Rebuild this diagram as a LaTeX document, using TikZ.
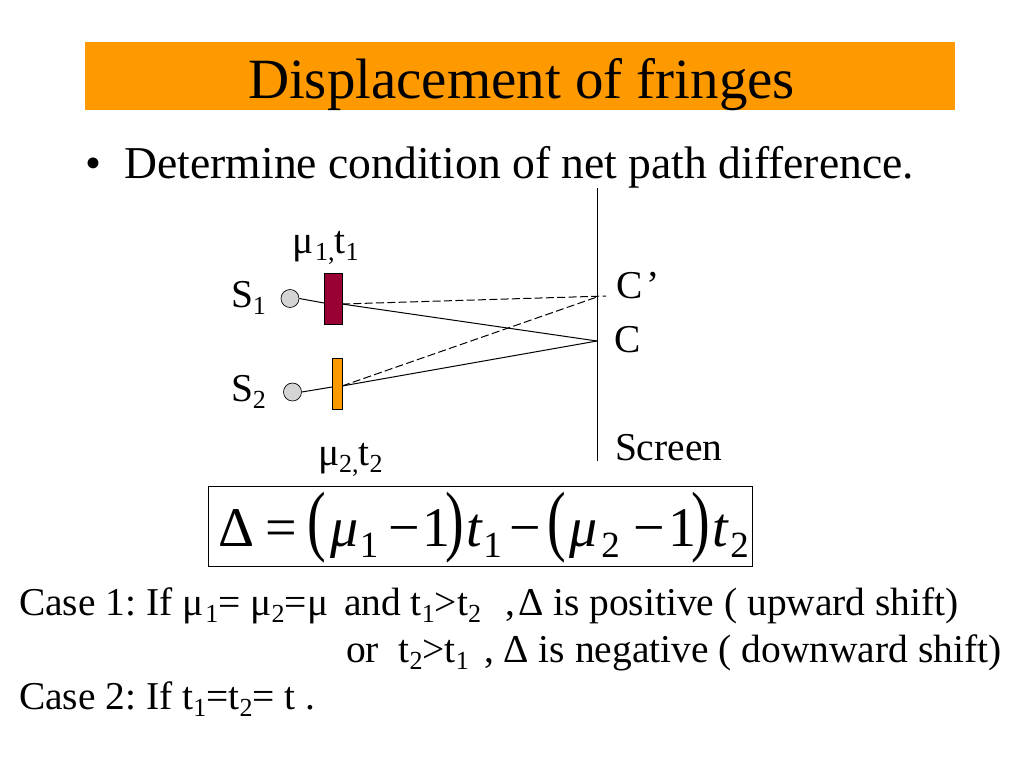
\documentclass[tikz,border=0pt]{standalone}
\usepackage{fontspec}
\setmainfont{Liberation Serif}
\usetikzlibrary{positioning}
\frenchspacing
\newcommand{\lowsub}[1]{\raisebox{-0.2em}{\scalebox{0.66}{#1}}}
\newcommand{\tallparen}[1]{\scalebox{1}[1.4]{#1}}
\newcommand{\gap}[1]{\hspace{#1em}}
\tikzset{
	txt/.style={anchor=base west, inner sep=0pt, outer sep=0pt},
	body/.style={txt, font=\fontsize{29.6}{32}\selectfont},
	diag/.style={txt, font=\fontsize{29.6}{32}\selectfont},
	source/.style={circle, draw=black, fill=black!17, minimum size=13.5pt, inner sep=0pt, line width=0.5pt},
	plate/.style={draw=black, line width=0.5pt, inner sep=0pt, anchor=north west},
	ray/.style={line width=0.75pt},
	dashray/.style={line width=0.75pt, dash pattern=on 6pt off 2.5pt}
}
\definecolor{titlebar}{RGB}{255,153,0}
\definecolor{wine}{RGB}{153,0,51}
\definecolor{amber}{RGB}{255,153,0}
\begin{document}
\begin{tikzpicture}[x=0.75pt, y=-0.75pt]
		\useasboundingbox (0,0) rectangle (1024,768);
		% Title
		\node[fill=titlebar, minimum width=652.5pt, minimum height=51pt, inner sep=0pt, anchor=north west] (bar) at (85,42) {};
		\node[txt, font=\fontsize{42.7}{46}\selectfont] (title) at (248,98) {Displacement of fringes};
		\node[txt, font=\fontsize{34.2}{38}\selectfont] (bullet) at (85,178) {•\gap{0.52}Determine condition of net path difference.};
		
		% Screen
		\coordinate (top) at (597,188);
		\coordinate (bottom) at (597,461);
		\coordinate (C) at (597,341);
		\coordinate (Cp) at (597,297);
		\coordinate (Cq) at (606,296);
		\draw[ray] (top) -- (bottom);
		
		% Sources and plates
		\node[source] (src1) at (290,298.5) {};
		\node[source] (src2) at (292.5,392) {};
		\node[plate, fill=wine, minimum width=13.5pt, minimum height=38.25pt] (plate1) at (324,273) {};
		\node[plate, fill=amber, minimum width=7.5pt, minimum height=38.25pt] (plate2) at (332,358) {};
		\coordinate (in1) at (324,303);
		\coordinate (out1) at (342,304);
		\coordinate (in2) at (332,387);
		\coordinate (out2) at (342,386);
		
		% Rays
		\draw[ray] (src1.east) -- (in1);
		\draw[ray] (out1) -- (C);
		\draw[ray] (src2.east) -- (in2);
		\draw[ray] (out2) -- (C);
		\draw[dashray] (out1) -- (Cq);
		\draw[dashray] (out2) -- (Cp);
		
		% Labels
		\node[diag] (lab1) at (292,253) {μ\gap{0.05}\lowsub{1,}t\lowsub{1}};
		\node[diag] (lab2) at (318,465) {μ\lowsub{2,}t\lowsub{2}};
		\node[diag] (s1) at (231,307) {S\lowsub{1}};
		\node[diag] (s2) at (231,401) {S\lowsub{2}};
		\node[diag] (cprime) at (616,298) {C\gap{0.1}’};
		\node[diag] (cc) at (614,352) {C};
		\node[diag] (screen) at (615,460) {Screen};
		
		% Delta formula
		\node[draw=black, line width=0.5pt, minimum width=408pt, minimum height=60pt, inner sep=0pt, anchor=north west] (eqbox) at (208,486) {};
		\node[txt, font=\fontsize{42}{46}\selectfont] (eq) at (218,546) {Δ\gap{0.21}=\gap{0.18}\tallparen{(}\gap{0.07}\textit{μ}\gap{0.03}\lowsub{1}\gap{0.18}−\gap{0.05}1\gap{-0.1}\tallparen{)}\gap{0.05}\textit{t}\lowsub{1}\gap{0.14}−\gap{0.12}\tallparen{(}\gap{0.05}\textit{μ}\gap{0.07}\lowsub{2}\gap{0.25}−\gap{0.05}1\gap{-0.09}\tallparen{)}\gap{0.05}\textit{t}\gap{0.02}\lowsub{2}};
		
		% Cases
		\node[body] (case1) at (19,615) {Case 1: If μ\gap{0.05}\lowsub{1}= μ\lowsub{2}=μ};
		\node[body] (and1) at (344,615) {and t\lowsub{1}>t\lowsub{2}};
		\node[body] (pos) at (505,615) {,\gap{0.08}Δ is positive ( upward shift)};
		\node[body] (or1) at (346,662) {or\gap{0.25} t\lowsub{2}>t\lowsub{1}};
		\node[body] (neg) at (484,662) {, Δ is negative ( downward shift)};
		\node[body] (case2) at (19,709) {Case 2: If t\lowsub{1}=t\lowsub{2}= t .};
	\end{tikzpicture}
\end{document}
